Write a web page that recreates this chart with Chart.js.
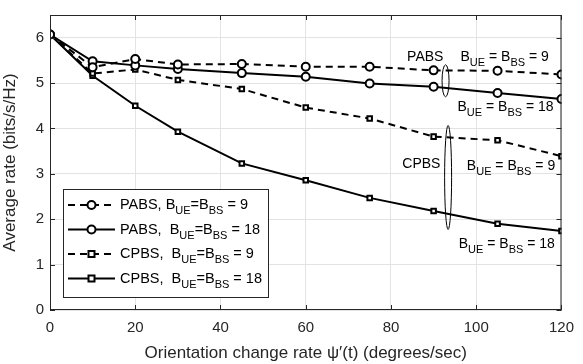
<!DOCTYPE html>
<html>
<head>
<meta charset="utf-8">
<script src="https://cdn.jsdelivr.net/npm/chart.js@4.4.0/dist/chart.umd.min.js"></script>
<style>
  html, body { margin: 0; padding: 0; background: #fff; }
  #wrap { width: 583px; height: 364px; }
</style>
</head>
<body>
<div id="wrap"><canvas id="rateChart"></canvas></div>
<script>
// orientation change rate (deg/s) and average rates (bits/s/Hz)
const rates = [0, 10, 20, 30, 45, 60, 75, 90, 105, 120];
const pabs9 = [6.07, 5.35, 5.53, 5.41, 5.42, 5.36, 5.36, 5.28, 5.27, 5.19];
const pabs18 = [6.07, 5.48, 5.39, 5.31, 5.22, 5.14, 4.99, 4.92, 4.78, 4.65];
const cpbs9 = [6.07, 5.21, 5.30, 5.07, 4.87, 4.46, 4.22, 3.82, 3.74, 3.39];
const cpbs18 = [6.07, 5.16, 4.50, 3.93, 3.23, 2.86, 2.47, 2.18, 1.90, 1.74];
const xTicks = [0, 20, 40, 60, 80, 100, 120];
const yTicks = [0, 1, 2, 3, 4, 5, 6];

const FONT = '"Liberation Sans", Arial, sans-serif';
const INK = '#000';

function pts(ys) {
    return rates.map((x, i) => ({ x: x, y: ys[i] }));
}

function series(label, ys, dashed, marker) {
    return {
        label: label,
        data: pts(ys),
        borderColor: INK,
        borderWidth: 2,
        borderDash: dashed ? [7, 5] : [],
        pointStyle: marker,
        pointRadius: marker === 'circle' ? 4 : 3.2,
        pointBorderWidth: 2,
        pointBackgroundColor: '#fff',
        pointBorderColor: INK,
        tension: 0,
        fill: false
    };
}

// text with subscripts: parts = [[text, isSub], ...]
function drawSub(ctx, x, y, parts, size) {
    const big = size + 'px ' + FONT;
    const small = Math.round(size * 0.78) + 'px ' + FONT;
    let cx = x;
    ctx.textAlign = 'left';
    ctx.textBaseline = 'middle';
    parts.forEach(p => {
        ctx.font = p[1] ? small : big;
        ctx.fillText(p[0], cx, p[1] ? y + size * 0.42 : y);
        cx += ctx.measureText(p[0]).width;
    });
}

const beq = (n) => [['B', false], ['UE', true], [' = B', false], ['BS', true], [' = ' + n, false]];
const beqTight = (n) => [['B', false], ['UE', true], ['=B', false], ['BS', true], [' = ' + n, false]];

const notes = {
    id: 'notes',
    afterDatasetsDraw(chart) {
        const ctx = chart.ctx;
        const xs = chart.scales.x, ys = chart.scales.y;
        const a = chart.chartArea;
        ctx.save();
        ctx.fillStyle = INK;
        ctx.strokeStyle = '#262626';

        // box and inner ticks
        ctx.lineWidth = 1;
        ctx.strokeRect(a.left + 0.5, a.top + 0.5, a.right - a.left - 1, a.bottom - a.top - 1);
        ctx.beginPath();
        xTicks.forEach(v => {
            const px = Math.round(xs.getPixelForValue(v)) + 0.5;
            ctx.moveTo(px, a.bottom); ctx.lineTo(px, a.bottom - 5);
            ctx.moveTo(px, a.top); ctx.lineTo(px, a.top + 5);
        });
        yTicks.forEach(v => {
            const py = Math.round(ys.getPixelForValue(v)) + 0.5;
            ctx.moveTo(a.left, py); ctx.lineTo(a.left + 5, py);
            ctx.moveTo(a.right, py); ctx.lineTo(a.right - 5, py);
        });
        ctx.stroke();

        // group labels
        ctx.font = '14px ' + FONT;
        ctx.textAlign = 'right';
        ctx.textBaseline = 'middle';
        ctx.fillText('PABS', xs.getPixelForValue(92.3), ys.getPixelForValue(5.58));
        ctx.fillText('CPBS', xs.getPixelForValue(91.6), ys.getPixelForValue(3.22));
        drawSub(ctx, xs.getPixelForValue(96.3), ys.getPixelForValue(5.58), beq(9), 14);
        drawSub(ctx, xs.getPixelForValue(95.6), ys.getPixelForValue(4.47), beq(18), 14);
        drawSub(ctx, xs.getPixelForValue(97.8), ys.getPixelForValue(3.17), beq(9), 14);
        drawSub(ctx, xs.getPixelForValue(95.9), ys.getPixelForValue(1.45), beq(18), 14);

        // ellipses
        ctx.lineWidth = 1;
        ctx.strokeStyle = INK;
        ctx.beginPath();
        ctx.ellipse(xs.getPixelForValue(92.8), ys.getPixelForValue(5.05), 3.5, 16, 0, 0, Math.PI * 2);
        ctx.stroke();
        ctx.beginPath();
        ctx.ellipse(xs.getPixelForValue(93.4), ys.getPixelForValue(2.92), 3.5, 52, 0, 0, Math.PI * 2);
        ctx.stroke();

        // legend
        const lx = 63, ly = 189, lw = 205, lh = 108;
        ctx.fillStyle = '#fff';
        ctx.fillRect(lx, ly, lw, lh);
        ctx.strokeStyle = '#262626';
        ctx.strokeRect(lx + 0.5, ly + 0.5, lw, lh);
        const rows = [
            ['PABS, ', beqTight(9), true, 'circle'],
            ['PABS,  ', beqTight(18), false, 'circle'],
            ['CPBS,  ', beqTight(9), true, 'rect'],
            ['CPBS,  ', beqTight(18), false, 'rect']
        ];
        rows.forEach((r, i) => {
            const y = ly + 16 + i * 24.5;
            ctx.strokeStyle = INK;
            ctx.lineWidth = 2;
            ctx.setLineDash(r[2] ? [7, 5] : []);
            ctx.beginPath();
            ctx.moveTo(68, y); ctx.lineTo(115, y);
            ctx.stroke();
            ctx.setLineDash([]);
            ctx.fillStyle = '#fff';
            ctx.beginPath();
            if (r[3] === 'circle') ctx.arc(91.5, y, 4, 0, Math.PI * 2);
            else ctx.rect(88.5, y - 3, 6, 6);
            ctx.fill();
            ctx.stroke();
            ctx.fillStyle = INK;
            ctx.font = '14.5px ' + FONT;
            ctx.textAlign = 'left';
            ctx.textBaseline = 'middle';
            const head = r[0];
            ctx.fillText(head, 120, y);
            drawSub(ctx, 120 + ctx.measureText(head).width, y, r[1], 14.5);
        });
        ctx.restore();
    }
};

new Chart(document.getElementById('rateChart'), {
    type: 'line',
    data: {
        datasets: [
            series('PABS, B_UE=B_BS = 9', pabs9, true, 'circle'),
            series('PABS, B_UE=B_BS = 18', pabs18, false, 'circle'),
            series('CPBS, B_UE=B_BS = 9', cpbs9, true, 'rect'),
            series('CPBS, B_UE=B_BS = 18', cpbs18, false, 'rect')
        ]
    },
    options: {
        responsive: true,
        maintainAspectRatio: false,
        animation: false,
        layout: { padding: { top: 7, right: 14, left: 0, bottom: 0 } },
        plugins: { legend: { display: false }, tooltip: { enabled: false } },
        scales: {
            x: {
                type: 'linear',
                min: 0, max: 120,
                afterBuildTicks: s => { s.ticks = xTicks.map(v => ({ value: v })); },
                afterFit: s => { s.height = 54; },
                grid: { color: '#e3e3e3', drawTicks: false },
                border: { display: false },
                ticks: { color: '#262626', font: { family: FONT, size: 15 }, padding: 9, maxRotation: 0 },
                title: { display: true, text: 'Orientation change rate ψ′(t) (degrees/sec)', color: '#262626', font: { family: FONT, size: 17 }, padding: { top: 0, bottom: 0 } }
            },
            y: {
                min: 0, max: 6.5,
                afterBuildTicks: s => { s.ticks = yTicks.map(v => ({ value: v })); },
                afterFit: s => { s.width = 50; },
                grid: { color: '#e3e3e3', drawTicks: false },
                border: { display: false },
                ticks: { color: '#262626', font: { family: FONT, size: 15 }, padding: 6 },
                title: { display: true, text: 'Average rate (bits/s/Hz)', color: '#262626', font: { family: FONT, size: 17 }, padding: { top: 0, bottom: 2 } }
            }
        }
    },
    plugins: [notes]
});
</script>
</body>
</html>
